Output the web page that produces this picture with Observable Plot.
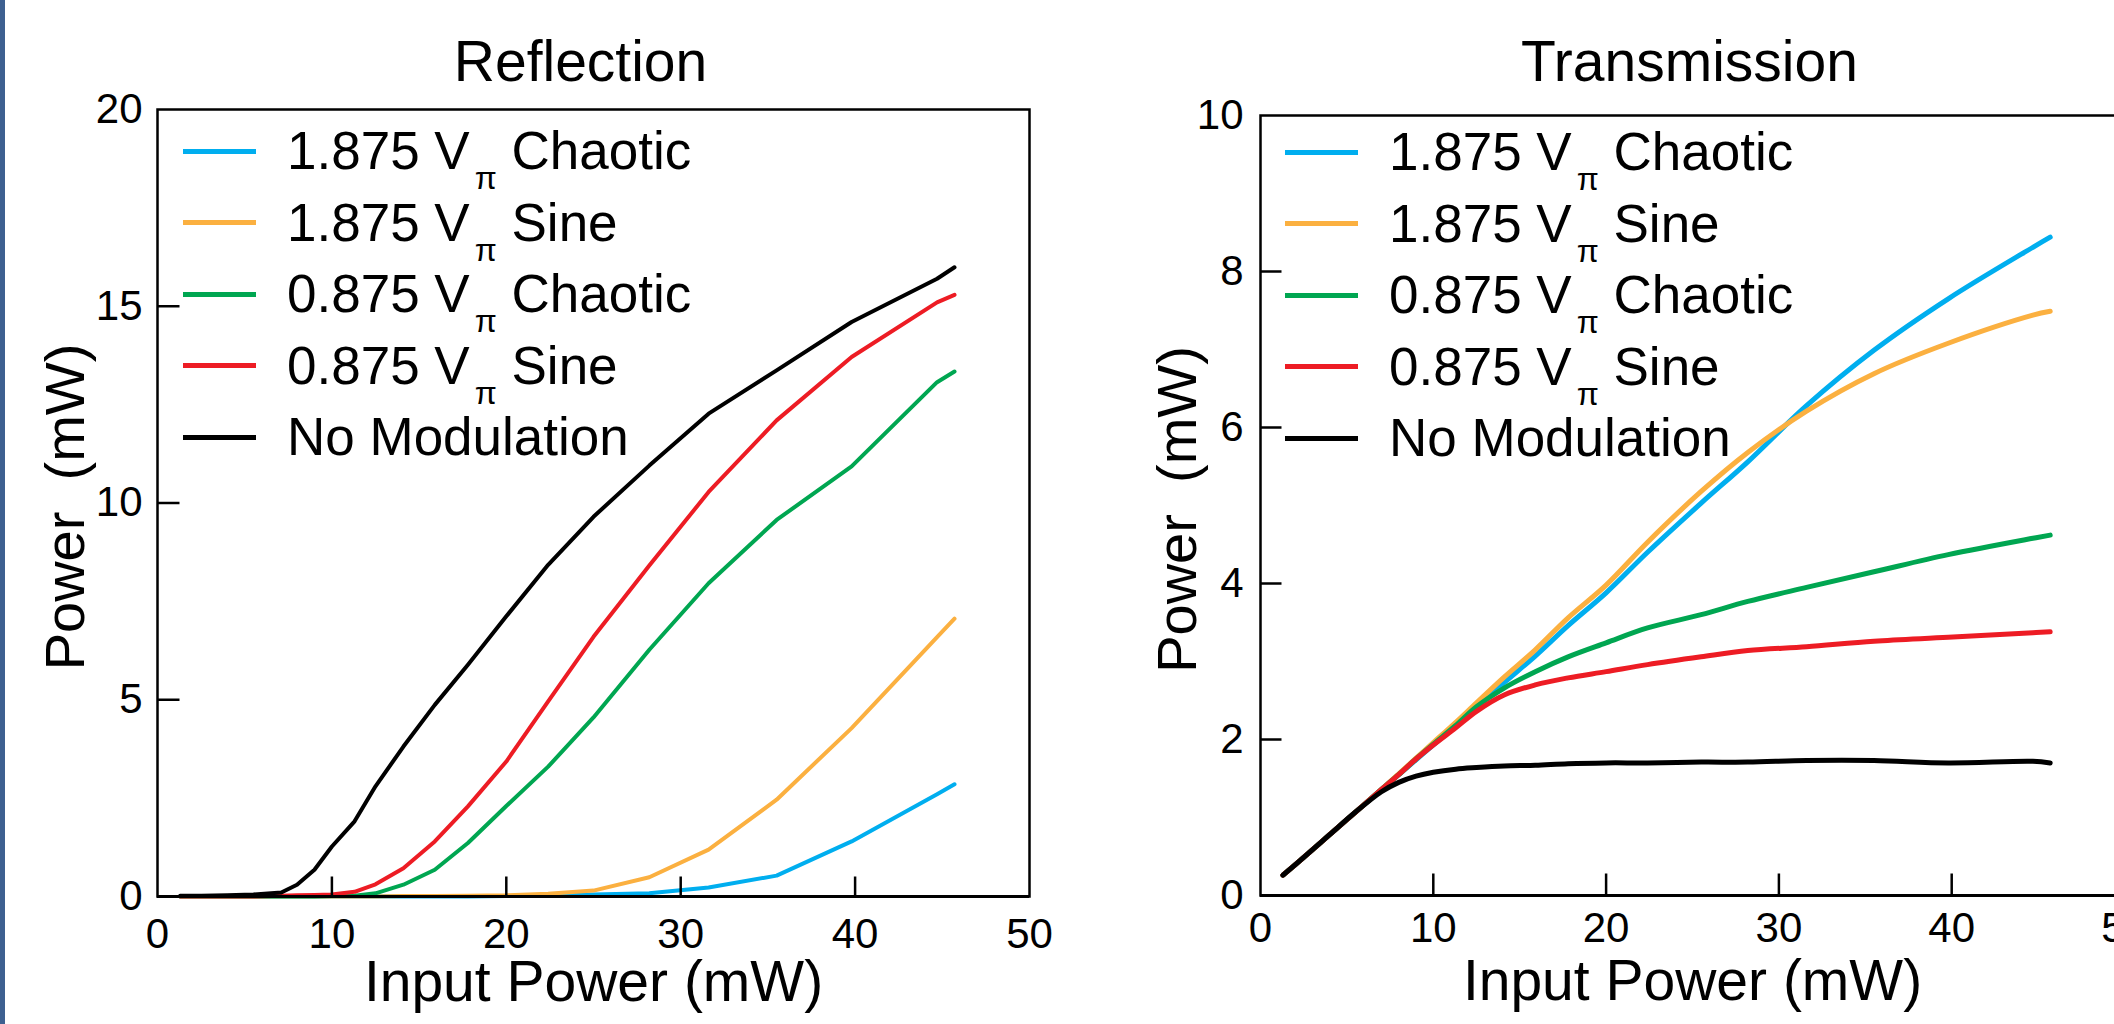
<!DOCTYPE html>
<html>
<head>
<meta charset="utf-8">
<script src="https://cdn.jsdelivr.net/npm/d3@7"></script>
<script src="https://cdn.jsdelivr.net/npm/@observablehq/plot@0.6"></script>
<style>
  html, body { margin: 0; padding: 0; background: #fff; overflow: hidden; }
  #stage { position: relative; width: 2114px; height: 1024px; overflow: hidden; background: #fff;
           font-family: "Liberation Sans", Arial, Helvetica, sans-serif; color: #000; }
  #bar { position: absolute; left: 0; top: 0; width: 5px; height: 1024px; background: #3d6090; }
  .panel { position: absolute; top: 0; }
  .legend { position: absolute; }
  .row { position: absolute; left: 0; height: 60px; line-height: 60px; font-size: 53px; white-space: nowrap; }
  .sw { position: absolute; left: 0; top: 30px; width: 73px; height: 5px; margin-top: -2.5px; }
  .lab { position: absolute; left: 104px; top: 0; }
  .pi { font-size: 32px; position: relative; top: 20px; margin-left: 5px; line-height: 0; }
</style>
</head>
<body>
<div id="stage">
  <div id="bar"></div>
  <div id="left" class="panel" style="left:0"></div>
  <div id="right" class="panel" style="left:1060px"></div>
  <div id="legL" class="legend" style="left:183px; top:121px"></div>
  <div id="legR" class="legend" style="left:1285px; top:122px"></div>
</div>
<script>
// ---- data ----
const seriesNames = ["1.875 V\u03c0 Chaotic", "1.875 V\u03c0 Sine", "0.875 V\u03c0 Chaotic", "0.875 V\u03c0 Sine", "No Modulation"];
const seriesColors = ["#00aeef", "#fbb040", "#00a651", "#ed1c24", "#000000"];

const inputPowerR = [1.3, 2.5, 4.0, 5.5, 7.1, 8.0, 9.0, 10.0, 11.3, 12.5, 14.1, 15.9, 17.8, 20.0, 22.4, 25.0, 28.2, 31.6, 35.5, 39.8, 44.7, 45.7];
const reflChaotic1875 = [0, 0, 0, 0, 0, 0, 0, 0, 0, 0, 0, 0, 0, 0.01, 0.02, 0.05, 0.08, 0.23, 0.53, 1.40, 2.60, 2.85];
const reflSine1875    = [0, 0, 0, 0, 0, 0, 0, 0, 0, 0, 0.01, 0.01, 0.02, 0.03, 0.07, 0.15, 0.49, 1.19, 2.46, 4.28, 6.59, 7.06];
const reflChaotic0875 = [0, 0, 0, 0, 0, 0, 0, 0.01, 0.02, 0.08, 0.30, 0.68, 1.36, 2.30, 3.30, 4.55, 6.27, 7.96, 9.57, 10.93, 13.07, 13.34];
const reflSine0875    = [0, 0, 0, 0, 0.02, 0.03, 0.04, 0.05, 0.12, 0.31, 0.72, 1.40, 2.29, 3.43, 4.96, 6.60, 8.41, 10.28, 12.10, 13.71, 15.10, 15.29];
const reflNoMod       = [0.02, 0.02, 0.03, 0.05, 0.10, 0.30, 0.68, 1.27, 1.91, 2.80, 3.81, 4.87, 5.89, 7.12, 8.43, 9.65, 10.95, 12.27, 13.37, 14.60, 15.70, 15.99];

const inputPowerT = [1.3, 2.5, 4.0, 5.5, 7.0, 8.0, 9.0, 10.0, 11.3, 12.5, 14.1, 15.9, 17.8, 20.0, 22.4, 25.5, 28.2, 31.6, 35.5, 39.8, 44.7, 45.7];
const tranChaotic1875 = [0.26, 0.49, 0.78, 1.07, 1.36, 1.55, 1.74, 1.93, 2.18, 2.42, 2.73, 3.07, 3.46, 3.88, 4.40, 5.03, 5.56, 6.28, 6.99, 7.65, 8.31, 8.44];
const tranSine1875    = [0.26, 0.49, 0.78, 1.07, 1.36, 1.56, 1.76, 1.96, 2.22, 2.47, 2.80, 3.15, 3.56, 3.98, 4.53, 5.18, 5.68, 6.21, 6.69, 7.08, 7.44, 7.49];
const tranChaotic0875 = [0.26, 0.49, 0.78, 1.07, 1.36, 1.55, 1.75, 1.94, 2.18, 2.42, 2.66, 2.87, 3.06, 3.24, 3.43, 3.60, 3.77, 3.95, 4.15, 4.37, 4.58, 4.62];
const tranSine0875    = [0.26, 0.49, 0.78, 1.07, 1.36, 1.55, 1.75, 1.93, 2.15, 2.36, 2.57, 2.70, 2.79, 2.87, 2.96, 3.06, 3.14, 3.19, 3.26, 3.31, 3.37, 3.38];
const tranNoMod       = [0.26, 0.49, 0.78, 1.07, 1.33, 1.45, 1.53, 1.58, 1.62, 1.64, 1.66, 1.67, 1.69, 1.70, 1.70, 1.71, 1.71, 1.73, 1.73, 1.70, 1.72, 1.70];

const xTicks = [0, 10, 20, 30, 40, 50];
const yTicksR = [0, 5, 10, 15, 20];
const yTicksT = [0, 2, 4, 6, 8, 10];

// ---- build long tables ----
function longTable(xs, seriesValues) {
  return seriesValues.flatMap((vals, i) => vals.map((v, j) => ({series: seriesNames[i], x: xs[j], y: v})));
}
const reflData = longTable(inputPowerR, [reflChaotic1875, reflSine1875, reflChaotic0875, reflSine0875, reflNoMod]);
const tranData = longTable(inputPowerT, [tranChaotic1875, tranSine1875, tranChaotic0875, tranSine0875, tranNoMod]);

const FONT = '"Liberation Sans", Arial, Helvetica, sans-serif';

function panel(o) {
  const H = 1024;
  const xDomain = [0, 50];
  const fh = H - o.mt - o.mb;          // frame height in px
  const fw = o.width - o.ml - o.mr;    // frame width in px
  // inward tick lengths, converted from px to data units (linear scales)
  const ySpan = o.ydomain[1] - o.ydomain[0];
  const xTickLen = o.xts * ySpan / fh;
  const yTickLen = o.yts * (xDomain[1] - xDomain[0]) / fw;
  const inner = xTicks.slice(1, -1).map(v => ({v}));
  const innerY = o.yticks.slice(1, -1).map(v => ({v}));
  return Plot.plot({
    width: o.width, height: H,
    marginLeft: o.ml, marginRight: o.mr, marginTop: o.mt, marginBottom: o.mb,
    style: {fontFamily: FONT, fontSize: "42px", color: "#000", background: "transparent", overflow: "visible", maxWidth: "none"},
    x: {domain: xDomain},
    y: {domain: o.ydomain},
    color: {domain: seriesNames, range: seriesColors},
    marks: [
      Plot.axisX({ticks: xTicks, tickSize: 0, tickPadding: o.xoff, fontSize: 42, label: null, tickFormat: d3.format("d")}),
      Plot.axisY({ticks: o.yticks, tickSize: 0, tickPadding: o.yoff, fontSize: 42, label: null, tickFormat: d3.format("d")}),
      Plot.line(o.data, {x: "x", y: "y", z: "series", stroke: "series", strokeWidth: o.lw, curve: o.curve, strokeLinejoin: "round"}),
      Plot.frame({stroke: "#000", strokeWidth: 2.5}),
      Plot.ruleY([o.ydomain[0]], {stroke: "#000", strokeWidth: 3}),
      // inward tick marks
      Plot.link(inner, {x1: "v", x2: "v", y1: () => o.ydomain[0], y2: () => o.ydomain[0] + xTickLen, stroke: "#000", strokeWidth: 2.5}),
      Plot.link(innerY, {y1: "v", y2: "v", x1: () => xDomain[0], x2: () => xDomain[0] + yTickLen, stroke: "#000", strokeWidth: 2.5}),
      Plot.text([o.title], {frameAnchor: "top", textAnchor: "middle", dy: o.titleDy, dx: o.titleDx, fontSize: 57, lineAnchor: "middle", fill: "#000"}),
      Plot.text(["Input Power (mW)"], {frameAnchor: "bottom", textAnchor: "middle", dy: o.xlabDy, fontSize: 57, lineAnchor: "middle", fill: "#000"}),
      Plot.text(["Power\u00a0\u00a0(mW)"], {frameAnchor: "left", textAnchor: "middle", dx: o.ylabDx, dy: 4, rotate: -90, fontSize: 56, lineAnchor: "middle", fill: "#000"})
    ]
  });
}

document.getElementById("left").appendChild(panel({
  width: 1060, ml: 157, mr: 31, mt: 109, mb: 128,
  ydomain: [0, 20], yticks: yTicksR, data: reflData, curve: "linear", lw: 4,
  xts: 20, xoff: 22, yts: 22, yoff: 15,
  title: "Reflection", titleDy: -47, titleDx: -13, xlabDy: 86, ylabDx: -91
}));

document.getElementById("right").appendChild(panel({
  width: 1110, ml: 200, mr: 46, mt: 115, mb: 129,
  ydomain: [0, 10], yticks: yTicksT, data: tranData, curve: "catmull-rom", lw: 5,
  xts: 22, xoff: 17, yts: 21, yoff: 17,
  title: "Transmission", titleDy: -53, titleDx: -3, xlabDy: 86, ylabDx: -82
}));

// ---- legends ----
function legend(el) {
  const spacing = 71.5;
  seriesNames.forEach((name, i) => {
    const row = document.createElement("div");
    row.className = "row";
    row.style.top = (i * spacing) + "px";
    const sw = document.createElement("div");
    sw.className = "sw";
    sw.style.background = seriesColors[i];
    row.appendChild(sw);
    const lab = document.createElement("div");
    lab.className = "lab";
    const parts = name.split("\u03c0");
    if (parts.length === 2) {
      lab.appendChild(document.createTextNode(parts[0]));
      const pi = document.createElement("span");
      pi.className = "pi";
      pi.textContent = "\u03c0";
      lab.appendChild(pi);
      lab.appendChild(document.createTextNode(parts[1]));
    } else {
      lab.textContent = name;
    }
    row.appendChild(lab);
    el.appendChild(row);
  });
}
legend(document.getElementById("legL"));
legend(document.getElementById("legR"));
</script>
</body>
</html>
